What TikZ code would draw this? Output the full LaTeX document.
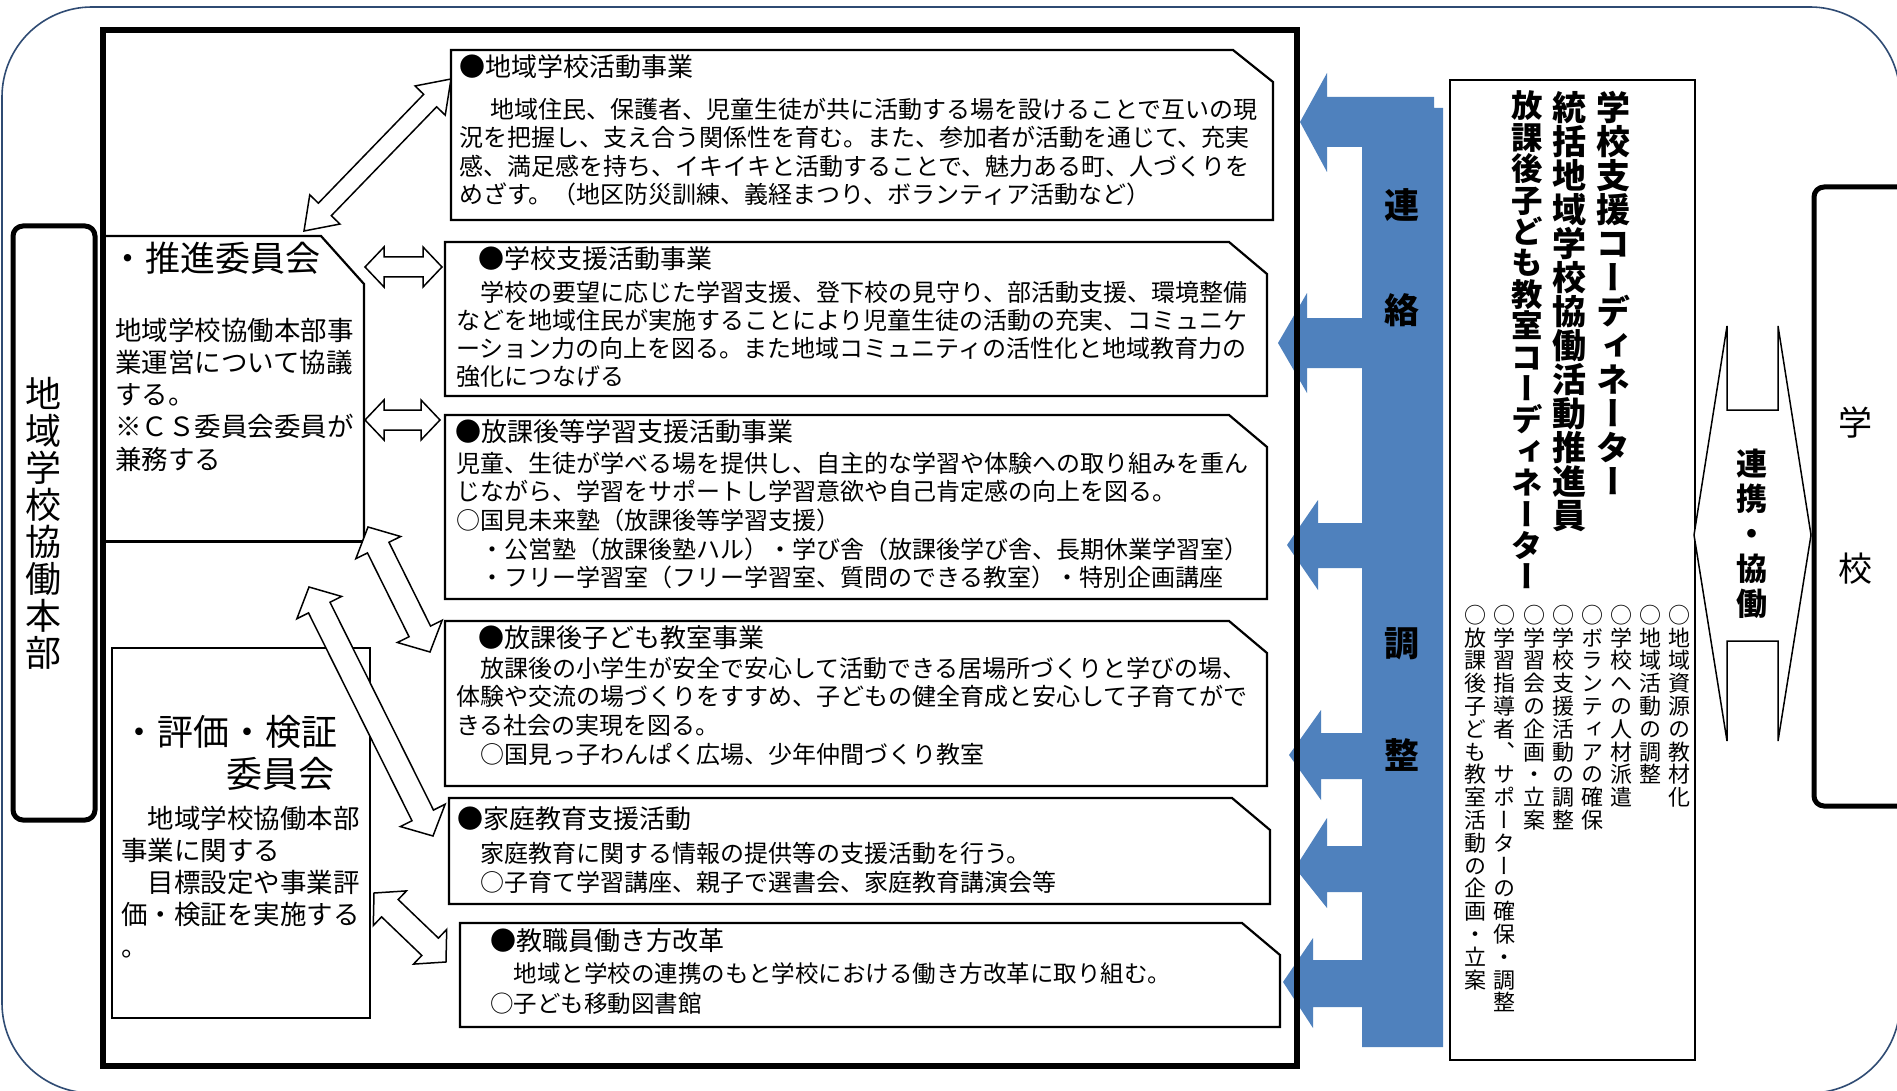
\documentclass[tikz,border=0pt]{standalone}
\usepackage{fontspec}
\newfontfamily\jp{Noto Sans CJK JP}
\newfontfamily\jpv{Noto Sans CJK JP}[RawFeature=+vert]
\usetikzlibrary{calc}
\definecolor{frameblue}{RGB}{47,75,115}
\definecolor{barblue}{RGB}{79,129,189}
\newcommand\jtop{\rule[-.12em]{0pt}{1em}}
\def\tateA#1{\ifx\relax#1\else\hbox to 1em{\hss#1\hss}\expandafter\tateA\fi}
\newcommand\tate[2]{\vbox{\baselineskip=#1\lineskip=0pt\lineskiplimit=-1000pt\tateA#2\relax}}
\newcommand\dblarrow[5]{%
 \draw[hollow] let \p1=(#1), \p2=(#2), \n1={atan2(\y2-\y1,\x2-\x1)}, \n2={veclen(\x2-\x1,\y2-\y1)} in
  [shift={(\p1)}, rotate=\n1]
  (0pt,0pt) -- (#5pt,#4pt) -- (#5pt,#3pt) -- ({\n2-#5pt},#3pt) -- ({\n2-#5pt},#4pt) -- ({\n2*1pt},0pt)
  -- ({\n2-#5pt},-#4pt) -- ({\n2-#5pt},-#3pt) -- (#5pt,-#3pt) -- (#5pt,-#4pt) -- cycle;}
\tikzset{
  hollow/.style={draw=black, fill=white, line width=1.5pt, line join=miter},
  boxline/.style={draw=black, line width=2.2pt, line join=miter},
  body/.style={anchor=north west, align=left, font=\jp\fontsize{24}{28.5}\selectfont},
  ttl/.style={anchor=west, font=\jp\fontsize{26}{30}\selectfont},
  vt/.style={anchor=north},
  bluetxt/.style={font=\jp\bfseries\fontsize{35}{35}\selectfont},
}
\begin{document}
\begin{tikzpicture}[x=1pt,y=-1pt, every node/.style={inner sep=0pt, outer sep=0pt}]
\useasboundingbox (0,0) rectangle (1897,1091);
\fill[white] (0,0) rectangle (1897,1091);
% outer frame
\draw[frameblue, line width=1.6pt, rounded corners=90pt] (2,7) rectangle (1900,1093);
% blue connector block
\fill[barblue] (1434,97) -- (1327,97) -- (1327,73) -- (1300,122) -- (1327,172) -- (1327,147) -- (1362,147)
 -- (1362,318) -- (1307,318) -- (1307,293) -- (1278,343) -- (1307,393) -- (1307,368) -- (1362,368)
 -- (1362,523) -- (1318,523) -- (1318,500) -- (1287,545) -- (1318,590) -- (1318,568) -- (1362,568)
 -- (1362,733) -- (1321,733) -- (1321,710) -- (1289,755) -- (1321,800) -- (1321,779) -- (1362,779)
 -- (1362,846) -- (1327,846) -- (1327,818) -- (1295,868) -- (1327,908) -- (1327,892) -- (1362,892)
 -- (1362,960) -- (1313,960) -- (1313,938) -- (1283,982) -- (1313,1028) -- (1313,1007) -- (1362,1007)
 -- (1362,1047) -- (1443,1047) -- (1443,108) -- (1434,108) -- cycle;
\node[bluetxt] (ren) at (1402,205) {連};
\node[bluetxt] (raku) at (1402,310) {絡};
\node[bluetxt] (chou) at (1402,644) {調};
\node[bluetxt] (sei) at (1402,755) {整};
% main frame
\draw[line width=6pt] (103,30) rectangle (1297,1066);
% honbu box
\draw[line width=5pt, rounded corners=10pt] (13,226) rectangle (95,820);
\node[vt, font=\jpv\fontsize{36}{36}\selectfont] (honbu) at (43,377) {\tate{37pt}{地域学校協働本部}};
% suishin box
\draw[boxline] (103,236) -- (321,236) -- (364,284) -- (364,540);
\draw[line width=3pt] (103,541) -- (364,541);
\node[anchor=west, font=\jp\fontsize{35}{40}\selectfont] (suishin) at (110,258) {\jtop{}・推進委員会};
\node[anchor=north west, align=left, font=\jp\fontsize{26.5}{32.2}\selectfont] (suishinbody) at (115,317)
 {\jtop{}地域学校協働本部事\\業運営について協議\\する。\\※ＣＳ委員会委員が\\兼務する};
% hyoka box
\draw[boxline] (112,648) rectangle (370,1018);
\node[anchor=west, font=\jp\fontsize{36}{40}\selectfont] (hyoka1) at (121,732) {\jtop{}・評価・検証};
\node[anchor=west, font=\jp\fontsize{36}{40}\selectfont] (hyoka2) at (226,774) {\jtop{}委員会};
\node[anchor=north west, align=left, font=\jp\fontsize{26.5}{32}\selectfont] (hyokabody) at (121,805)
 {\jtop{}　地域学校協働本部\\事業に関する\\　目標設定や事業評\\価・検証を実施する\\。};
% activity boxes
\draw[boxline] (451,50) -- (1233,50) -- (1273,82) -- (1273,220) -- (451,220) -- cycle;
\draw[boxline] (445,242) -- (1229,242) -- (1267,274) -- (1267,396) -- (445,396) -- cycle;
\draw[boxline] (445,415) -- (1229,415) -- (1267,447) -- (1267,599) -- (445,599) -- cycle;
\draw[boxline] (445,621) -- (1229,621) -- (1267,653) -- (1267,786) -- (445,786) -- cycle;
\draw[boxline] (449,798) -- (1232,798) -- (1270,830) -- (1270,904) -- (449,904) -- cycle;
\draw[boxline] (460,923) -- (1242,923) -- (1280,955) -- (1280,1027) -- (460,1027) -- cycle;
\node[ttl] (ta) at (459,67) {\jtop{}●地域学校活動事業};
\node[body] (ba) at (459,97) {\jtop{}\hspace*{31pt}地域住民、保護者、児童生徒が共に活動する場を設けることで互いの現\\況を把握し、支え合う関係性を育む。また、参加者が活動を通じて、充実\\感、満足感を持ち、イキイキと活動することで、魅力ある町、人づくりを\\めざす。（地区防災訓練、義経まつり、ボランティア活動など）};
\node[ttl] (tb) at (478,259) {\jtop{}●学校支援活動事業};
\node[body, font=\jp\fontsize{24}{28}\selectfont] (bb) at (456,280) {\jtop{}　学校の要望に応じた学習支援、登下校の見守り、部活動支援、環境整備\\などを地域住民が実施することにより児童生徒の活動の充実、コミュニケ\\ーション力の向上を図る。また地域コミュニティの活性化と地域教育力の\\強化につなげる};
\node[ttl] (tc) at (455,432) {\jtop{}●放課後等学習支援活動事業};
\node[body, font=\jp\fontsize{24}{28.7}\selectfont] (bc) at (456,451) {\jtop{}児童、生徒が学べる場を提供し、自主的な学習や体験への取り組みを重ん\\じながら、学習をサポートし学習意欲や自己肯定感の向上を図る。\\○国見未来塾（放課後等学習支援）\\　・公営塾（放課後塾ハル）・学び舎（放課後学び舎、長期休業学習室）\\　・フリー学習室（フリー学習室、質問のできる教室）・特別企画講座};
\node[ttl] (td) at (478,638) {\jtop{}●放課後子ども教室事業};
\node[body, font=\jp\fontsize{24}{28.7}\selectfont] (bd) at (456,656) {\jtop{}　放課後の小学生が安全で安心して活動できる居場所づくりと学びの場、\\体験や交流の場づくりをすすめ、子どもの健全育成と安心して子育てがで\\きる社会の実現を図る。\\　○国見っ子わんぱく広場、少年仲間づくり教室};
\node[ttl] (te) at (457,819) {\jtop{}●家庭教育支援活動};
\node[body, font=\jp\fontsize{24}{29}\selectfont] (be) at (456,841) {\jtop{}　家庭教育に関する情報の提供等の支援活動を行う。\\　○子育て学習講座、親子で選書会、家庭教育講演会等};
\node[ttl] (tf) at (490,941) {\jtop{}●教職員働き方改革};
\node[body, font=\jp\fontsize{23.5}{30}\selectfont] (bf) at (490,962) {\jtop{}　地域と学校の連携のもと学校における働き方改革に取り組む。\\○子ども移動図書館};
% hollow double arrows
\coordinate (d1a) at (304,231); \coordinate (d1b) at (451,79);
\coordinate (h1a) at (365,267); \coordinate (h1b) at (442,267);
\coordinate (h2a) at (365,420); \coordinate (h2b) at (440,420);
\coordinate (d2a) at (368,527); \coordinate (d2b) at (430,652);
\coordinate (d3a) at (309,587); \coordinate (d3b) at (433,836);
\coordinate (d4a) at (374,893); \coordinate (d4b) at (446,962);
\dblarrow{d1a}{d1b}{9}{21}{30}
\dblarrow{h1a}{h1b}{10}{20}{19}
\dblarrow{h2a}{h2b}{10}{20}{19}
\dblarrow{d2a}{d2b}{12}{25}{23}
\dblarrow{d3a}{d3b}{12}{25}{23}
\dblarrow{d4a}{d4b}{12}{24}{22}
% coordinator box
\draw[boxline] (1450,80) rectangle (1695,1060);
\node[vt, font=\jpv\bfseries\fontsize{34}{34}\selectfont] (c1) at (1613,91) {\tate{34pt}{学校支援コーディネーター}};
\node[vt, font=\jpv\bfseries\fontsize{34}{34}\selectfont] (c2) at (1569,91) {\tate{34pt}{統括地域学校協働活動推進員}};
\node[vt, font=\jpv\bfseries\fontsize{31.4}{31.4}\selectfont] (c3) at (1527,91) {\tate{31.4pt}{放課後子ども教室コーディネーター}};
\tikzset{lst/.style={vt, font=\jpv\fontsize{22}{22}\selectfont}}
\node[lst] (l1) at (1679,605) {\tate{22.8pt}{○地域資源の教材化}};
\node[lst] (l2) at (1650,605) {\tate{22.8pt}{○地域活動の調整}};
\node[lst] (l3) at (1621,605) {\tate{22.8pt}{○学校への人材派遣}};
\node[lst] (l4) at (1592,605) {\tate{22.8pt}{○ボランティアの確保}};
\node[lst] (l5) at (1563,605) {\tate{22.8pt}{○学校支援活動の調整}};
\node[lst] (l6) at (1534,605) {\tate{22.8pt}{○学習会の企画・立案}};
\node[lst] (l7) at (1504,605) {\tate{22.8pt}{○学習指導者、サポーターの確保・調整}};
\node[lst] (l8) at (1475,605) {\tate{22.8pt}{○放課後子ども教室活動の企画・立案}};
% renkei arrow
\draw[hollow] (1694,535) -- (1727,326) -- (1727,410) -- (1778,410) -- (1778,326) -- (1811,535)
 -- (1778,741) -- (1778,641) -- (1727,641) -- (1727,741) -- cycle;
\node[vt, font=\jpv\bfseries\fontsize{31}{31}\selectfont] (renkei) at (1752,449) {\tate{35pt}{連携・協働}};
% school box
\draw[line width=5pt, rounded corners=10pt] (1814,187) rectangle (1920,806);
\node[font=\jp\fontsize{34}{34}\selectfont] (gaku) at (1855,423) {学};
\node[font=\jp\fontsize{34}{34}\selectfont] (kou) at (1855,569) {校};
\end{tikzpicture}
\end{document}
